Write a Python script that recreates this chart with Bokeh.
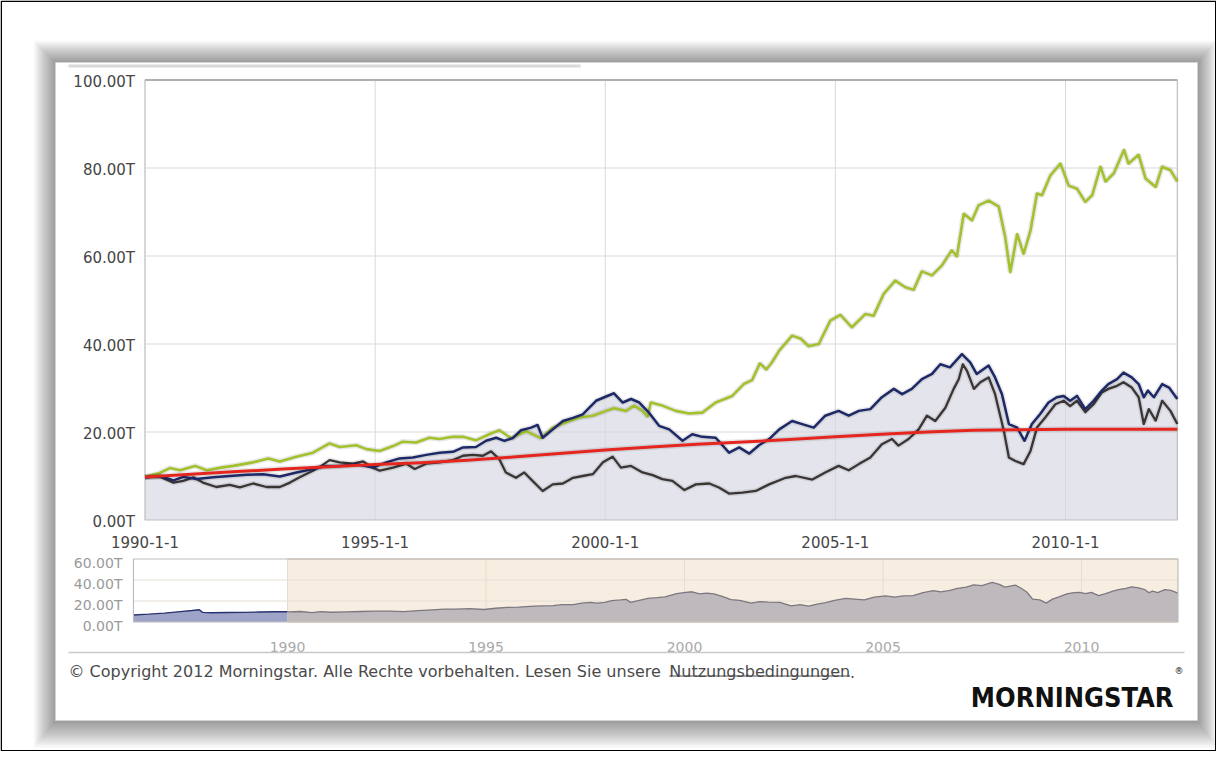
from bokeh.plotting import figure
from bokeh.models import Range1d, ColumnDataSource
from bokeh.core.properties import value
from bokeh.embed import file_html
from bokeh.resources import INLINE

# ---------------- data (values in trillions, x in fractional years) ----------------
green_years = [1990.0, 1990.3, 1990.54, 1990.76, 1991.09, 1991.34, 1991.65, 1991.92, 1992.35, 1992.68,
               1992.93, 1993.29, 1993.65, 1994.01, 1994.23, 1994.59, 1994.81, 1995.10, 1995.39, 1995.60,
               1995.89, 1996.18, 1996.40, 1996.69, 1996.91, 1997.19, 1997.48, 1997.70, 1997.95, 1998.28,
               1998.60, 1998.86, 1999.15, 1999.44, 1999.73, 2000.02, 2000.19, 2000.45, 2000.63, 2000.81,
               2000.92, 2000.99, 2001.24, 2001.53, 2001.82, 2002.11, 2002.40, 2002.76, 2003.01, 2003.19,
               2003.36, 2003.50, 2003.62, 2003.78, 2004.06, 2004.25, 2004.42, 2004.64, 2004.89, 2005.11,
               2005.36, 2005.65, 2005.83, 2006.05, 2006.30, 2006.52, 2006.70, 2006.88, 2007.10, 2007.31,
               2007.53, 2007.64, 2007.79, 2007.97, 2008.11, 2008.33, 2008.55, 2008.69, 2008.80, 2008.95,
               2009.09, 2009.24, 2009.38, 2009.49, 2009.67, 2009.89, 2010.07, 2010.25, 2010.43, 2010.58,
               2010.76, 2010.87, 2011.05, 2011.27, 2011.37, 2011.59, 2011.74, 2011.96, 2012.10, 2012.28,
               2012.43]
green_vals = [9.8, 10.6, 11.8, 11.3, 12.3, 11.3, 11.9, 12.3, 13.1, 14.0,
              13.3, 14.4, 15.3, 17.4, 16.6, 17.0, 16.1, 15.7, 16.8, 17.8,
              17.6, 18.7, 18.4, 18.9, 18.9, 18.1, 19.5, 20.4, 18.6, 20.2,
              18.6, 21.0, 22.2, 23.3, 23.7, 24.8, 25.4, 24.8, 26.0, 24.8,
              23.5, 26.7, 26.0, 24.8, 24.2, 24.4, 26.7, 28.2, 30.9, 31.8,
              35.6, 34.2, 35.8, 38.5, 41.9, 41.2, 39.5, 40.0, 45.3, 46.6,
              43.8, 46.8, 46.4, 51.4, 54.4, 52.9, 52.3, 56.5, 55.6, 57.8,
              61.3, 59.9, 69.6, 68.1, 71.5, 72.6, 71.2, 64.3, 56.3, 65.0,
              60.5, 65.8, 74.2, 73.8, 78.3, 81.0, 76.0, 75.3, 72.3, 73.8,
              80.3, 76.9, 78.8, 84.1, 81.0, 83.0, 77.6, 75.7, 80.3, 79.5,
              76.9]

navy_years = [1990.0, 1990.33, 1990.62, 1990.83, 1991.12, 1991.48, 1991.84, 1992.21, 1992.57, 1992.93,
              1993.29, 1993.65, 1993.94, 1994.23, 1994.59, 1994.95, 1995.24, 1995.53, 1995.82, 1996.11,
              1996.40, 1996.69, 1996.91, 1997.19, 1997.41, 1997.63, 1997.81, 1997.99, 1998.17, 1998.39,
              1998.53, 1998.64, 1998.86, 1999.08, 1999.30, 1999.51, 1999.80, 1999.98, 2000.19, 2000.38,
              2000.56, 2000.74, 2000.95, 2001.17, 2001.39, 2001.68, 2001.89, 2002.11, 2002.40, 2002.69,
              2002.91, 2003.13, 2003.34, 2003.56, 2003.78, 2004.06, 2004.28, 2004.53, 2004.78, 2005.07,
              2005.29, 2005.51, 2005.76, 2006.01, 2006.27, 2006.45, 2006.66, 2006.88, 2007.10, 2007.28,
              2007.49, 2007.75, 2007.93, 2008.07, 2008.33, 2008.47, 2008.62, 2008.77, 2008.95, 2009.11,
              2009.27, 2009.45, 2009.63, 2009.81, 2009.96, 2010.10, 2010.25, 2010.43, 2010.61, 2010.79,
              2010.93, 2011.12, 2011.26, 2011.44, 2011.59, 2011.70, 2011.79, 2011.92, 2012.10, 2012.25,
              2012.43]
navy_vals = [9.7, 10.0, 9.0, 9.8, 9.3, 9.7, 10.0, 10.3, 10.4, 9.9,
             10.8, 11.6, 12.3, 12.3, 12.7, 11.9, 13.1, 14.0, 14.2, 14.8,
             15.3, 15.5, 16.5, 16.6, 18.0, 18.7, 18.0, 18.6, 20.4, 21.0,
             21.6, 18.7, 20.6, 22.5, 23.2, 24.0, 27.1, 27.9, 28.8, 26.7,
             27.5, 26.7, 24.4, 21.4, 20.6, 18.0, 19.5, 18.9, 18.7, 15.3,
             16.5, 15.1, 17.0, 18.4, 20.6, 22.5, 21.8, 21.0, 23.7, 24.8,
             23.7, 24.8, 25.2, 27.9, 29.8, 28.6, 29.8, 32.0, 33.2, 35.4,
             34.7, 37.7, 35.8, 33.2, 35.1, 32.4, 28.6, 21.8, 21.0, 18.0,
             21.8, 24.1, 26.7, 27.9, 28.2, 27.1, 28.2, 25.2, 27.1, 29.4,
             30.9, 32.0, 33.5, 32.4, 30.9, 27.9, 29.4, 27.9, 30.9, 30.1,
             27.5]

dark_years = [1990.0, 1990.33, 1990.62, 1990.83, 1991.05, 1991.26, 1991.55, 1991.84, 1992.06, 1992.35,
              1992.64, 1992.93, 1993.15, 1993.36, 1993.65, 1993.83, 1994.01, 1994.23, 1994.52, 1994.74,
              1994.95, 1995.10, 1995.39, 1995.68, 1995.86, 1996.11, 1996.40, 1996.69, 1996.91, 1997.12,
              1997.34, 1997.52, 1997.70, 1997.84, 1998.06, 1998.24, 1998.42, 1998.64, 1998.86, 1999.08,
              1999.30, 1999.51, 1999.73, 1999.95, 2000.16, 2000.34, 2000.56, 2000.81, 2001.03, 2001.24,
              2001.46, 2001.72, 2001.97, 2002.26, 2002.47, 2002.69, 2002.98, 2003.27, 2003.56, 2003.92,
              2004.14, 2004.50, 2004.78, 2005.07, 2005.29, 2005.51, 2005.76, 2006.01, 2006.23, 2006.37,
              2006.59, 2006.81, 2006.99, 2007.17, 2007.39, 2007.57, 2007.68, 2007.77, 2007.86, 2008.01,
              2008.15, 2008.33, 2008.47, 2008.66, 2008.77, 2008.91, 2009.09, 2009.24, 2009.38, 2009.56,
              2009.78, 2009.96, 2010.10, 2010.25, 2010.43, 2010.61, 2010.79, 2010.93, 2011.12, 2011.26,
              2011.44, 2011.59, 2011.70, 2011.81, 2011.96, 2012.10, 2012.28, 2012.43]
dark_vals = [9.7, 9.8, 8.5, 8.9, 9.7, 8.5, 7.5, 8.0, 7.4, 8.3,
             7.5, 7.5, 8.5, 9.7, 11.2, 12.3, 13.6, 13.1, 12.8, 13.3,
             11.9, 11.2, 11.9, 12.8, 11.6, 12.8, 13.1, 13.6, 14.6, 14.8,
             14.6, 15.6, 13.8, 10.8, 9.6, 10.8, 8.9, 6.6, 8.1, 8.3,
             9.6, 10.0, 10.4, 13.1, 14.4, 11.9, 12.3, 10.8, 10.2, 9.3,
             8.9, 6.8, 8.1, 8.3, 7.4, 6.0, 6.2, 6.6, 8.1, 9.6,
             10.0, 9.2, 10.8, 12.3, 11.3, 12.7, 14.2, 17.2, 18.4, 16.9,
             18.4, 20.6, 23.7, 22.5, 25.5, 29.8, 32.0, 35.4, 33.9, 29.8,
             31.3, 32.4, 28.6, 20.3, 14.2, 13.4, 12.7, 15.7, 21.0, 23.3,
             26.3, 27.1, 25.9, 27.1, 24.5, 26.3, 29.0, 29.8, 30.5, 31.3,
             30.1, 27.9, 21.8, 25.2, 22.6, 27.1, 24.8, 21.8]

red_years = [1990.0, 1991.0, 1992.0, 1993.0, 1994.0, 1995.0, 1996.0, 1997.0, 1998.0, 1999.0,
             2000.0, 2001.0, 2002.0, 2003.0, 2004.0, 2005.0, 2006.0, 2007.0, 2008.0, 2009.0,
             2010.0, 2011.0, 2012.43]
red_vals = [9.8, 10.4, 11.0, 11.6, 12.1, 12.6, 13.0, 13.6, 14.3, 15.1,
            15.9, 16.6, 17.2, 17.7, 18.3, 18.9, 19.5, 20.0, 20.4, 20.5,
            20.6, 20.6, 20.6]

# navigator history before the selected window (same series as the navy line)
nav_pre_years = [1986.12, 1986.5, 1986.9, 1987.3, 1987.6, 1987.78, 1987.86, 1988.1, 1988.5, 1988.9,
                 1989.3, 1989.7, 1990.0]
nav_pre_vals = [6.6, 7.5, 8.5, 9.9, 10.9, 11.6, 9.2, 8.8, 9.0, 9.2,
                9.5, 9.8, 9.7]

main_x_ticks = [1990, 1995, 2000, 2005, 2010]
main_x_labels = ["1990-1-1", "1995-1-1", "2000-1-1", "2005-1-1", "2010-1-1"]
main_y_ticks = [0, 20, 40, 60, 80, 100]
main_y_labels = ["0.00T", "20.00T", "40.00T", "60.00T", "80.00T", "100.00T"]
nav_x_ticks = [1990, 1995, 2000, 2005, 2010]
nav_x_labels = ["1990", "1995", "2000", "2005", "2010"]
nav_y_ticks = [0, 20, 40, 60]
nav_y_labels = ["0.00T", "20.00T", "40.00T", "60.00T"]

X_START, X_END, NAV_START = 1990.0, 2012.43, 1986.12
Y_MAX, NAV_Y_MAX = 100, 60

copyright_text = "\u00a9 Copyright 2012 Morningstar. Alle Rechte vorbehalten. Lesen Sie unsere"
link_text = "Nutzungsbedingungen"
logo_text = "MORNINGSTAR"

# ---------------- layout (figure pixel geometry) ----------------
W, H = 1216, 751
PX0, PX1 = 0, W
PY0, PY1 = 0, H


def frame_range(va, pa, vb, pb, p_lo, p_hi):
    k = (vb - va) / (pb - pa)
    return Range1d(start=va + (p_lo - pa) * k, end=va + (p_hi - pa) * k)


p = figure(width=W, height=H, x_range=Range1d(PX0, PX1), y_range=Range1d(PY1, PY0),
           x_axis_type=None, y_axis_type=None, output_backend="svg", toolbar_location=None,
           min_border=0, min_border_left=0, min_border_right=0, min_border_top=0, min_border_bottom=0,
           outline_line_color=None, background_fill_color="white", border_fill_color="white")

p.extra_x_ranges = {"mx": frame_range(1990, 144.5, 2010, 1065, PX0, PX1),
                    "nx": frame_range(1990, 287, 2010, 1081, PX0, PX1)}
p.extra_y_ranges = {"my": frame_range(0, 519.5, 100, 79.5, PY1, PY0),
                    "ny": frame_range(0, 621.5, 60, 558.5, PY1, PY0)}
M = dict(x_range_name="mx", y_range_name="my")
N = dict(x_range_name="nx", y_range_name="ny")
FONT = value("DejaVu Sans")

# ---------------- card with drop shadow ----------------
CL, CR, CT, CB = 55, 1197, 62, 720
n = 22
p.quad(left=[CL - i for i in range(1, n + 1)], right=[CR + 0.9 * i for i in range(1, n + 1)],
       top=[CT - i for i in range(1, n + 1)], bottom=[CB + 1.25 * i for i in range(1, n + 1)],
       fill_color="black", fill_alpha=0.019, line_color=None)
p.quad(left=[CL], right=[CR], top=[CT], bottom=[CB], fill_color="white", line_color="#d4d4d4",
       line_width=0.8)
p.quad(left=[68], right=[580], top=[64], bottom=[67], fill_color="#dadada", line_color=None)

# ---------------- main chart ----------------
gsrc = ColumnDataSource(dict(x=green_years, y=green_vals))
nsrc = ColumnDataSource(dict(x=navy_years, y=navy_vals))
dsrc = ColumnDataSource(dict(x=dark_years, y=dark_vals))
rsrc = ColumnDataSource(dict(x=red_years, y=red_vals))

p.varea(x="x", y1=0, y2="y", source=nsrc, fill_color="#e4e5ec", **M)

gx = [t for t in main_x_ticks if t > X_START]
p.segment(x0=gx, y0=[0] * len(gx), x1=gx, y1=[Y_MAX] * len(gx), line_color="#d9d9d9", line_width=1, **M)
gy = [t for t in main_y_ticks if 0 < t < Y_MAX]
p.segment(x0=[X_START] * len(gy), y0=gy, x1=[X_END] * len(gy), y1=gy, line_color="#d9d9d9", line_width=1, **M)
p.quad(left=[X_START], right=[X_END], bottom=[0], top=[Y_MAX], fill_color=None,
       line_color="#bdbdbd", line_width=1.2, **M)
p.segment(x0=[X_START], y0=[Y_MAX], x1=[X_END], y1=[Y_MAX], line_color="#b0b0b0", line_width=2.2, **M)

for src, col, lw in [(gsrc, "#a2c12c", 2.6), (dsrc, "#3a3435", 2.3), (nsrc, "#1d2867", 2.5),
                     (rsrc, "#e5261e", 3.0)]:
    p.line(x="x", y="y", source=src, line_color="black", line_alpha=0.09, line_width=lw + 3, **M)
    p.line(x="x", y="y", source=src, line_color=col, line_width=lw, line_join="round", **M)

p.text(x=[X_START] * len(main_y_ticks), y=main_y_ticks, text=main_y_labels, x_offset=-10, y_offset=1.5,
       text_align="right", text_baseline="middle", text_font=FONT, text_font_size="15px",
       text_color="#454545", **M)
p.text(x=main_x_ticks, y=[0] * len(main_x_ticks), text=main_x_labels, y_offset=22,
       text_align="center", text_baseline="middle", text_font=FONT, text_font_size="15px",
       text_color="#454545", **M)

# ---------------- navigator ----------------
p.quad(left=[X_START], right=[X_END], bottom=[0], top=[NAV_Y_MAX], fill_color="#f7ede0",
       line_color=None, **N)
ny = [t for t in nav_y_ticks if 0 < t < NAV_Y_MAX]
p.segment(x0=[NAV_START] * len(ny), y0=ny, x1=[X_END] * len(ny), y1=ny, line_color="#e6e0d8",
          line_width=1, **N)
p.segment(x0=nav_x_ticks, y0=[0] * len(nav_x_ticks), x1=nav_x_ticks, y1=[NAV_Y_MAX] * len(nav_x_ticks),
          line_color="#e6dccf", line_width=1, **N)

psrc = ColumnDataSource(dict(x=nav_pre_years, y=nav_pre_vals))
p.varea(x="x", y1=0, y2="y", source=psrc, fill_color="#9ea4c8", **N)
p.line(x="x", y="y", source=psrc, line_color="#27336f", line_width=1.4, **N)
p.varea(x="x", y1=0, y2="y", source=nsrc, fill_color="#bdb9bd", **N)
p.line(x="x", y="y", source=nsrc, line_color="#7d7880", line_width=1.3, **N)

p.segment(x0=[X_START, X_START], y0=[0, NAV_Y_MAX], x1=[X_END, X_END], y1=[0, NAV_Y_MAX],
          line_color="#ddcdb7", line_width=1.5, **N)
p.quad(left=[NAV_START], right=[X_END], bottom=[0], top=[NAV_Y_MAX], fill_color=None,
       line_color="#bdbdbd", line_width=1.2, **N)

p.text(x=[NAV_START] * len(nav_y_ticks), y=nav_y_ticks, text=nav_y_labels, x_offset=-11, y_offset=4,
       text_align="right", text_baseline="middle", text_font=FONT, text_font_size="14px",
       text_color="#9a9a9a", **N)
p.text(x=nav_x_ticks, y=[0] * len(nav_x_ticks), text=nav_x_labels, y_offset=24.5,
       text_align="center", text_baseline="middle", text_font=FONT, text_font_size="14px",
       text_color="#a9a9a9", **N)

# ---------------- footer ----------------
p.segment(x0=[68], y0=[652], x1=[1184], y1=[652], line_color="#c9c9c9", line_width=1.5)
FS = 16
link_x = 68 + 37.55 * FS
link_w = 11.3 * FS
p.text(x=[68], y=[671], text=[copyright_text], text_align="left", text_baseline="alphabetic",
       text_font=FONT, text_font_size=f"{FS}px", text_color="#4a4a4a")
p.text(x=[link_x], y=[671], text=[link_text], text_align="left", text_baseline="alphabetic",
       text_font=FONT, text_font_size=f"{FS}px", text_color="#4a4a4a")
p.text(x=[link_x + link_w], y=[671], text=["."], text_align="left", text_baseline="alphabetic",
       text_font=FONT, text_font_size=f"{FS}px", text_color="#4a4a4a")
p.segment(x0=[link_x], y0=[675.5], x1=[link_x + link_w], y1=[675.5], line_color="#4a4a4a", line_width=1)

p.text(x=[1173], y=[697], text=[logo_text], text_align="right", text_baseline="alphabetic",
       text_font=value("'Liberation Sans Narrow', 'DejaVu Sans Condensed', Roboto, sans-serif"),
       text_font_style="bold", text_font_size="27px", text_color="#111111")
p.text(x=[1174], y=[670], text=["\u00ae"], text_align="left", text_baseline="middle",
       text_font=FONT, text_font_size="9px", text_color="#111111")

# ---------------- outer frame ----------------
p.quad(left=[PX0 + 0.75], right=[PX1 - 0.75], top=[PY0 + 0.75], bottom=[PY1 - 0.75],
       fill_color=None, line_color="black", line_width=1.5)

open("out.html", "w").write(file_html(p, INLINE))
